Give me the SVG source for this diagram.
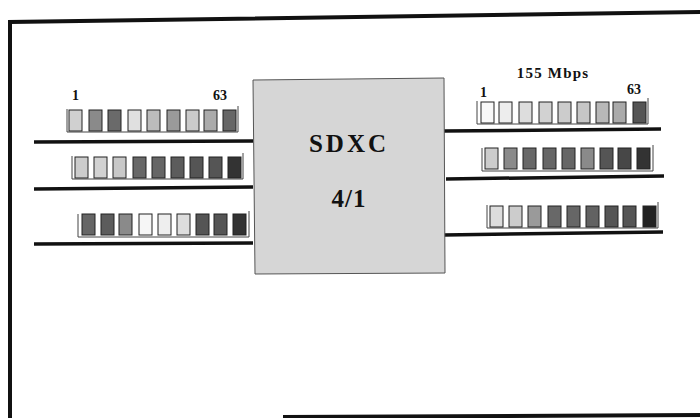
<svg xmlns="http://www.w3.org/2000/svg" width="700" height="418" viewBox="0 0 700 418">
<style>
.frame{fill:none;stroke:#111;stroke-width:4}
.link{stroke:#111;stroke-width:3.5;fill:none}
.tray{fill:none;stroke:#444;stroke-width:1}
.sq{stroke:#222;stroke-width:1}
.lbl{font-family:"Liberation Serif",serif;font-weight:bold;fill:#111}
.box{fill:#d6d6d6;stroke:#555;stroke-width:1}
</style>
<defs>
<g id="tray"><path class="tray" d="M0,0 V23 H171 V-3"/></g>
</defs>
<path class="frame" d="M10,418 V22 L700,12"/>
<path class="frame" d="M283,417 L700,415"/>
<g id="connectors">
<line class="link" x1="34" y1="142" x2="253" y2="141"/>
<line class="link" x1="34" y1="189" x2="253" y2="187"/>
<line class="link" x1="34" y1="244" x2="253" y2="243"/>
<line class="link" x1="443" y1="131" x2="661" y2="129"/>
<line class="link" x1="446" y1="179" x2="664" y2="176"/>
<line class="link" x1="444" y1="235" x2="663" y2="232"/>
</g>
<g id="sdxc">
<path class="box" d="M253,80 L444,78 L445,273 L255,274 Z"/>
<text class="lbl" x="349" y="152" font-size="25" text-anchor="middle" letter-spacing="3">SDXC</text>
<text class="lbl" x="349" y="207" font-size="25" text-anchor="middle" letter-spacing="1">4/1</text>
</g>
<g id="in1">
<text class="lbl" x="72" y="100" font-size="14">1</text>
<text class="lbl" x="213" y="100" font-size="14">63</text>
<use href="#tray" x="67" y="109"/>
<rect class="sq" x="69" y="110" width="13" height="21" fill="#d0d0d0"/>
<rect class="sq" x="89" y="110" width="13" height="21" fill="#8a8a8a"/>
<rect class="sq" x="108" y="110" width="13" height="21" fill="#6a6a6a"/>
<rect class="sq" x="128" y="110" width="13" height="21" fill="#e0e0e0"/>
<rect class="sq" x="147" y="110" width="13" height="21" fill="#bcbcbc"/>
<rect class="sq" x="167" y="110" width="13" height="21" fill="#9a9a9a"/>
<rect class="sq" x="186" y="110" width="13" height="21" fill="#cacaca"/>
<rect class="sq" x="204" y="110" width="13" height="21" fill="#aaaaaa"/>
<rect class="sq" x="223" y="110" width="13" height="21" fill="#666666"/>
</g>
<g id="in2">
<use href="#tray" x="72" y="156"/>
<rect class="sq" x="75" y="157" width="13" height="21" fill="#cccccc"/>
<rect class="sq" x="94" y="157" width="13" height="21" fill="#d2d2d2"/>
<rect class="sq" x="113" y="157" width="13" height="21" fill="#c8c8c8"/>
<rect class="sq" x="133" y="157" width="13" height="21" fill="#686868"/>
<rect class="sq" x="152" y="157" width="13" height="21" fill="#666666"/>
<rect class="sq" x="171" y="157" width="13" height="21" fill="#5c5c5c"/>
<rect class="sq" x="190" y="157" width="13" height="21" fill="#555555"/>
<rect class="sq" x="209" y="157" width="13" height="21" fill="#555555"/>
<rect class="sq" x="228" y="157" width="13" height="21" fill="#333333"/>
</g>
<g id="in3">
<use href="#tray" x="78" y="214"/>
<rect class="sq" x="82" y="214" width="13" height="21" fill="#666666"/>
<rect class="sq" x="101" y="214" width="13" height="21" fill="#5c5c5c"/>
<rect class="sq" x="119" y="214" width="13" height="21" fill="#8a8a8a"/>
<rect class="sq" x="139" y="214" width="13" height="21" fill="#f6f6f6"/>
<rect class="sq" x="158" y="214" width="13" height="21" fill="#eeeeee"/>
<rect class="sq" x="177" y="214" width="13" height="21" fill="#dddddd"/>
<rect class="sq" x="196" y="214" width="13" height="21" fill="#555555"/>
<rect class="sq" x="214" y="214" width="13" height="21" fill="#555555"/>
<rect class="sq" x="233" y="214" width="13" height="21" fill="#333333"/>
</g>
<g id="out1">
<text class="lbl" x="553" y="78" font-size="15" text-anchor="middle" letter-spacing="1.2">155 Mbps</text>
<text class="lbl" x="480" y="97" font-size="14">1</text>
<text class="lbl" x="627" y="94" font-size="14">63</text>
<use href="#tray" x="477" y="101"/>
<rect class="sq" x="481" y="102" width="13" height="21" fill="#f8f8f8"/>
<rect class="sq" x="499" y="102" width="13" height="21" fill="#ededed"/>
<rect class="sq" x="519" y="102" width="13" height="21" fill="#dddddd"/>
<rect class="sq" x="539" y="102" width="13" height="21" fill="#d2d2d2"/>
<rect class="sq" x="558" y="102" width="13" height="21" fill="#cccccc"/>
<rect class="sq" x="577" y="102" width="13" height="21" fill="#c6c6c6"/>
<rect class="sq" x="596" y="102" width="13" height="21" fill="#b8b8b8"/>
<rect class="sq" x="613" y="102" width="13" height="21" fill="#aaaaaa"/>
<rect class="sq" x="633" y="102" width="13" height="21" fill="#555555"/>
</g>
<g id="out2">
<use href="#tray" x="482" y="148"/>
<rect class="sq" x="485" y="148" width="13" height="21" fill="#cccccc"/>
<rect class="sq" x="504" y="148" width="13" height="21" fill="#8a8a8a"/>
<rect class="sq" x="523" y="148" width="13" height="21" fill="#686868"/>
<rect class="sq" x="543" y="148" width="13" height="21" fill="#666666"/>
<rect class="sq" x="562" y="148" width="13" height="21" fill="#666666"/>
<rect class="sq" x="581" y="148" width="13" height="21" fill="#8a8a8a"/>
<rect class="sq" x="600" y="148" width="13" height="21" fill="#555555"/>
<rect class="sq" x="618" y="148" width="13" height="21" fill="#474747"/>
<rect class="sq" x="637" y="148" width="13" height="21" fill="#333333"/>
</g>
<g id="out3">
<use href="#tray" x="487" y="205"/>
<rect class="sq" x="490" y="206" width="13" height="21" fill="#dddddd"/>
<rect class="sq" x="509" y="206" width="13" height="21" fill="#cccccc"/>
<rect class="sq" x="528" y="206" width="13" height="21" fill="#9a9a9a"/>
<rect class="sq" x="548" y="206" width="13" height="21" fill="#686868"/>
<rect class="sq" x="567" y="206" width="13" height="21" fill="#666666"/>
<rect class="sq" x="586" y="206" width="13" height="21" fill="#626262"/>
<rect class="sq" x="605" y="206" width="13" height="21" fill="#555555"/>
<rect class="sq" x="623" y="206" width="13" height="21" fill="#555555"/>
<rect class="sq" x="643" y="206" width="13" height="21" fill="#222222"/>
</g>
</svg>
